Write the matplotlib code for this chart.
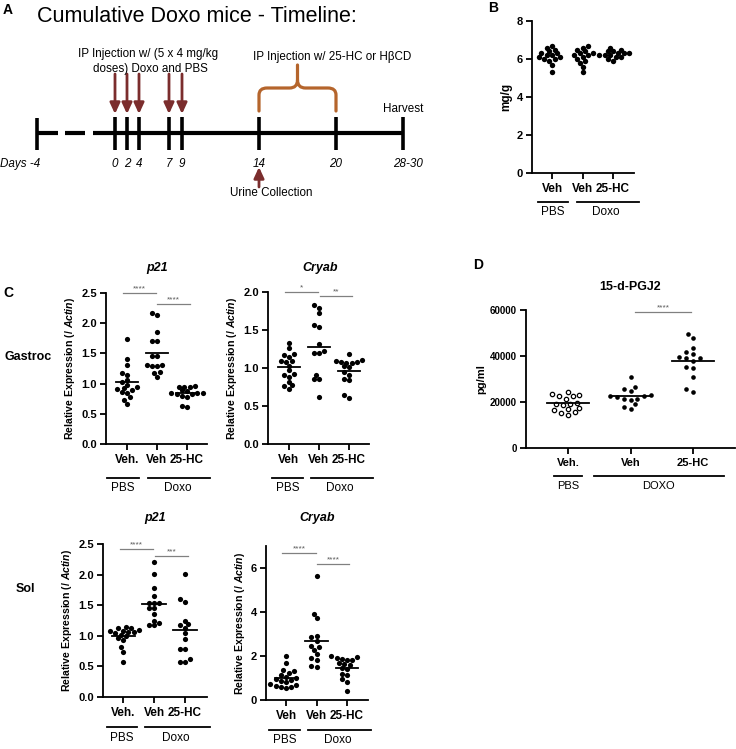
import numpy as np
import matplotlib.pyplot as plt
from matplotlib.path import Path
from matplotlib.patches import PathPatch

W, H = 736, 749

# ---- panel B: kidney/body weight (mg/g)
b_labels = ["Veh", "Veh", "25-HC"]
b_pbs_veh = [6.7, 6.6, 6.5, 6.4, 6.3, 6.3, 6.2, 6.2, 6.1, 6.1, 6.0, 5.9, 5.7, 5.3, 6.0]
b_doxo_veh = [6.7, 6.6, 6.5, 6.4, 6.3, 6.3, 6.2, 6.2, 6.1, 6.0, 5.9, 5.8, 5.6, 5.3]
b_doxo_hc = [6.6, 6.5, 6.4, 6.4, 6.3, 6.3, 6.3, 6.2, 6.2, 6.1, 6.1, 6.0, 5.9, 6.2]

# ---- panel C: relative expression (/ Actin)
c_labels = ["Veh.", "Veh", "25-HC"]
c_labels_b = ["Veh", "Veh", "25-HC"]
p21_gas_pbs = [1.74, 1.41, 1.30, 1.17, 1.14, 1.06, 1.02, 0.98, 0.94, 0.91, 0.90, 0.86, 0.78, 0.73, 0.66, 0.85, 0.92]
p21_gas_veh = [2.17, 2.14, 1.85, 1.70, 1.70, 1.45, 1.45, 1.31, 1.30, 1.29, 1.29, 1.20, 1.18, 1.11]
p21_gas_hc = [0.96, 0.95, 0.95, 0.94, 0.89, 0.88, 0.85, 0.84, 0.84, 0.83, 0.82, 0.80, 0.78, 0.63, 0.62]

cryab_gas_pbs = [1.33, 1.26, 1.18, 1.17, 1.15, 1.09, 1.09, 1.08, 1.03, 0.97, 0.92, 0.91, 0.88, 0.82, 0.77, 0.76, 0.72]
cryab_gas_veh = [1.83, 1.79, 1.73, 1.57, 1.54, 1.32, 1.22, 1.20, 1.20, 0.91, 0.86, 0.86, 0.62]
cryab_gas_hc = [1.19, 1.10, 1.09, 1.08, 1.08, 1.07, 1.06, 1.02, 1.01, 0.95, 0.91, 0.86, 0.84, 0.64, 0.60]

p21_sol_pbs = [1.14, 1.13, 1.12, 1.10, 1.08, 1.08, 1.07, 1.06, 1.05, 1.02, 1.00, 0.96, 0.93, 0.81, 0.74, 0.58]
p21_sol_veh = [2.21, 2.01, 1.78, 1.65, 1.54, 1.54, 1.53, 1.45, 1.45, 1.36, 1.25, 1.21, 1.18, 1.17]
p21_sol_hc = [2.01, 1.60, 1.56, 1.25, 1.19, 1.18, 1.13, 1.05, 0.95, 0.79, 0.79, 0.62, 0.58, 0.57]

cryab_sol_pbs = [2.0, 1.7, 1.35, 1.3, 1.25, 1.15, 1.05, 1.0, 0.95, 0.9, 0.85, 0.8, 0.75, 0.7, 0.65, 0.6, 0.6, 0.55]
cryab_sol_veh = [5.62, 3.92, 3.72, 2.92, 2.86, 2.70, 2.46, 2.43, 2.28, 2.10, 1.90, 1.82, 1.55, 1.49]
cryab_sol_hc = [1.98, 1.95, 1.90, 1.85, 1.82, 1.80, 1.67, 1.64, 1.60, 1.45, 1.40, 1.19, 1.15, 0.94, 0.84, 0.43]

# ---- panel D: 15-d-PGJ2 (pg/ml)
d_labels = ["Veh.", "Veh", "25-HC"]
pgj2_pbs = [24500, 22900, 22500, 21200, 19300, 19300, 19600, 17200, 17000, 16700, 15500, 15200, 14500, 23300, 22500, 18800]
pgj2_veh = [30900, 26700, 25500, 24800, 23000, 22800, 22500, 22300, 21300, 21300, 21000, 19000, 17800, 17100]
pgj2_hc = [49600, 47700, 43600, 41700, 40900, 39600, 39000, 39000, 37700, 35400, 34600, 30900, 25500, 24200]

# ---- panel A: timeline (schematic positions)
tl_days = ["0", "2", "4", "7", "9", "14", "20", "28-30"]
tl_pos = [115, 127, 139, 169, 182, 259, 336, 403]
dose_days = ["0", "2", "4", "7", "9"]

plt.rcParams.update({
    "font.family": ["Liberation Sans", "DejaVu Sans"],
    "mathtext.fontset": "custom",
    "mathtext.rm": "Liberation Sans",
    "mathtext.it": "Liberation Sans:italic",
    "mathtext.bf": "Liberation Sans:bold",
    "mathtext.bfit": "Liberation Sans:italic:bold",
})

fig = plt.figure(figsize=(W / 100, H / 100), dpi=100)


def px_axes(left, top, right, bottom):
    return fig.add_axes([left / W, 1 - bottom / H, (right - left) / W, (bottom - top) / H])


def ftext(x, y, s, **kw):
    fig.text(x / W, 1 - y / H, s, **kw)


def swarm(vals, py_unit, px_cat, dot_px, gap=0.85):
    """Simple beeswarm: place each point as close to the centre as possible without overlap."""
    y = np.asarray(vals, dtype=float) * py_unit
    order = np.argsort(y)
    step = dot_px * 0.5
    cands = sorted([c * step for c in range(-12, 13)], key=lambda c: (abs(c), c))
    placed = []
    offs = np.zeros(len(y))
    for k in order:
        for c in cands:
            if all((c - xp) ** 2 + (y[k] - yp) ** 2 >= (dot_px * gap) ** 2 for xp, yp in placed):
                break
        placed.append((c, y[k]))
        offs[k] = c / px_cat
    return offs


def dot_panel(ax, groups, labels, xlim, ylim, yticks, yfmt, dot_px=5.2, gap=0.85,
              mean_w=0.75, show_mean=True, open_first=False, tick_fs=8, lab_fs=8.5):
    ax.set_xlim(*xlim)
    ax.set_ylim(*ylim)
    pos = ax.get_position()
    py_unit = pos.height * H / (ylim[1] - ylim[0])
    px_cat = pos.width * W / (xlim[1] - xlim[0])
    s = (dot_px * 0.72) ** 2
    for i, vals in enumerate(groups):
        offs = swarm(vals, py_unit, px_cat, dot_px, gap)
        if open_first and i == 0:
            ax.scatter(i + offs, vals, s=s * 0.9, facecolor="white", edgecolor="black",
                       linewidth=0.9, zorder=3, clip_on=False)
        else:
            ax.scatter(i + offs, vals, s=s, color="black", linewidth=0, zorder=3, clip_on=False)
        if show_mean:
            m = float(np.mean(vals))
            ax.plot([i - mean_w / 2, i + mean_w / 2], [m, m], color="black", lw=1.3, zorder=4)
    for sp in ("top", "right"):
        ax.spines[sp].set_visible(False)
    for sp in ("left", "bottom"):
        ax.spines[sp].set_linewidth(1.3)
    ax.set_yticks(yticks)
    ax.set_yticklabels([yfmt(v) for v in yticks], fontweight="bold", fontsize=tick_fs)
    ax.set_xticks(range(len(labels)))
    ax.set_xticklabels(labels, fontweight="bold", fontsize=lab_fs)
    ax.tick_params(direction="out", length=4, width=1.3, pad=2.5)
    ax.tick_params(axis="x", pad=3.5)


def group_bars(ax, spans, names, name_x, line_px, text_px, fs=8.5):
    hpx = ax.get_position().height * H
    tr = ax.get_xaxis_transform()
    for (x0, x1), name, xc in zip(spans, names, name_x):
        ax.plot([x0, x1], [-line_px / hpx] * 2, transform=tr, clip_on=False, color="black", lw=1.3)
        ax.text(xc, -text_px / hpx, name, transform=tr, ha="center", va="center", fontsize=fs)


def sig_bar(ax, x0, x1, y, stars, fs=6):
    ax.plot([x0, x1], [y, y], color="0.5", lw=0.9, clip_on=False)
    ax.annotate(stars, xy=((x0 + x1) / 2, y), xytext=(0, 0.5), textcoords="offset points",
                ha="center", va="bottom", fontsize=fs, color="0.35", annotation_clip=False)


ylab = r"Relative Expression (/ $\mathbfit{Actin}$)"
f1 = lambda v: f"{v:.1f}"
f0 = lambda v: f"{v:.0f}"

# ================= Panel A: timeline =================
ax_a = px_axes(0, 0, 440, 200)
ax_a.set_xlim(0, 440)
ax_a.set_ylim(200, 0)
ax_a.axis("off")
ax_a.text(37, 16, "Cumulative Doxo mice - Timeline:", fontsize=15.5, ha="left", va="center")

line_y = 133
ax_a.plot([37, 58], [line_y, line_y], color="black", lw=3, solid_capstyle="butt")
ax_a.plot([65, 85], [line_y, line_y], color="black", lw=3, solid_capstyle="butt")
ax_a.plot([93, tl_pos[-1]], [line_y, line_y], color="black", lw=3, solid_capstyle="butt")
ax_a.plot([37, 37], [118, 150], color="black", lw=2.6, solid_capstyle="butt")
for x in tl_pos:
    ax_a.plot([x, x], [117, 150], color="black", lw=2.6, solid_capstyle="butt")
ax_a.text(0, 164, "Days -4", fontsize=8.4, style="italic", ha="left", va="center")
for x, lab in zip(tl_pos, tl_days):
    dxl = 5 if lab == "28-30" else 0
    ax_a.text(x + dxl, 164, lab, fontsize=8.4, style="italic", ha="center", va="center")

arrow_col = "#7b2d2d"
astyle = "-|>,head_width=0.3,head_length=0.65"
for x, day in zip(tl_pos, tl_days):
    if day in dose_days:
        ax_a.annotate("", xy=(x, 114), xytext=(x, 74),
                      arrowprops=dict(arrowstyle=astyle, lw=2.0, color=arrow_col,
                                      shrinkA=0, shrinkB=0))
ax_a.annotate("", xy=(259, 167), xytext=(259, 187),
              arrowprops=dict(arrowstyle=astyle, lw=2.0, color=arrow_col, shrinkA=0, shrinkB=0))
ax_a.text(271, 193, "Urine Collection", fontsize=8.4, ha="center", va="center")
ax_a.text(148, 54, "IP Injection w/ (5 x 4 mg/kg", fontsize=8.4, ha="center", va="center")
ax_a.text(150, 69, "doses) Doxo and PBS", fontsize=8.4, ha="center", va="center")
ax_a.text(332, 57, "IP Injection w/ 25-HC or H\u03b2CD", fontsize=8.4, ha="center", va="center")
ax_a.text(403, 109, "Harvest", fontsize=8.4, ha="center", va="center")

bx0, bx1 = tl_pos[5], tl_pos[6]
bc = (bx0 + bx1) / 2
verts = [(bx0, 111), (bx0, 95), (bx0, 88), (bx0 + 8, 88), (bc - 8, 88), (bc, 88), (bc, 80), (bc, 65),
         (bc, 80), (bc, 88), (bc + 8, 88), (bx1 - 8, 88), (bx1, 88), (bx1, 95), (bx1, 111)]
codes = [Path.MOVETO, Path.LINETO, Path.CURVE3, Path.CURVE3, Path.LINETO, Path.CURVE3, Path.CURVE3,
         Path.LINETO, Path.MOVETO, Path.CURVE3, Path.CURVE3, Path.LINETO, Path.CURVE3, Path.CURVE3, Path.LINETO]
ax_a.add_patch(PathPatch(Path(verts, codes), facecolor="none", edgecolor="#b5652c", lw=2.3,
                         capstyle="round", joinstyle="round"))
ftext(8, 10, "A", fontsize=10, fontweight="bold", ha="center", va="center")

# ================= Panel B =================
ax_b = px_axes(532, 21, 634, 173)
dot_panel(ax_b, [b_pbs_veh, b_doxo_veh, b_doxo_hc], b_labels, (-0.66, 2.69), (0, 8),
          [0, 2, 4, 6, 8], f0, show_mean=False, dot_px=5.4)
ax_b.set_ylabel("mg/g", fontweight="bold", fontsize=8.5, labelpad=3)
group_bars(ax_b, [(-0.46, 0.52), (0.82, 2.85)], ["PBS", "Doxo"], [0.03, 1.77], 29, 39)
ftext(493, 8, "B", fontsize=10, fontweight="bold", ha="center", va="center")

# ================= Panel C =================
ftext(8, 293, "C", fontsize=10, fontweight="bold", ha="center", va="center")
ftext(28, 357, "Gastroc", fontsize=9, fontweight="bold", ha="center", va="center")
ftext(25, 589, "Sol", fontsize=9, fontweight="bold", ha="center", va="center")
ftext(157, 268, "p21", fontsize=9, fontweight="bold", style="italic", ha="center", va="center")
ftext(320, 268, "Cryab", fontsize=9, fontweight="bold", style="italic", ha="center", va="center")
ftext(155, 518, "p21", fontsize=9, fontweight="bold", style="italic", ha="center", va="center")
ftext(317, 518, "Cryab", fontsize=9, fontweight="bold", style="italic", ha="center", va="center")

c_half = [0, 0.5, 1.0, 1.5, 2.0, 2.5]

ax1 = px_axes(106, 293, 207, 444)
dot_panel(ax1, [p21_gas_pbs, p21_gas_veh, p21_gas_hc], c_labels, (-0.7, 2.67), (0, 2.5), c_half, f1)
ax1.set_ylabel(ylab, fontweight="bold", fontsize=7.6, labelpad=3)
group_bars(ax1, [(-0.67, 0.4), (0.7, 2.77)], ["PBS", "Doxo"], [-0.13, 1.7], 34, 44)
sig_bar(ax1, -0.13, 0.97, 2.5, "****")
sig_bar(ax1, 1.0, 2.1, 2.32, "****")

ax2 = px_axes(268, 292, 369, 444)
dot_panel(ax2, [cryab_gas_pbs, cryab_gas_veh, cryab_gas_hc], c_labels_b, (-0.7, 2.67), (0, 2.0),
          c_half[:5], f1)
ax2.set_ylabel(ylab, fontweight="bold", fontsize=7.6, labelpad=3)
group_bars(ax2, [(-0.57, 0.47), (0.73, 2.8)], ["PBS", "Doxo"], [-0.03, 1.7], 34, 44)
sig_bar(ax2, -0.13, 0.97, 2.0, "*")
sig_bar(ax2, 1.03, 2.1, 1.95, "**")

ax3 = px_axes(103, 544, 207, 697)
dot_panel(ax3, [p21_sol_pbs, p21_sol_veh, p21_sol_hc], c_labels, (-0.65, 2.71), (0, 2.5), c_half, f1)
ax3.set_ylabel(ylab, fontweight="bold", fontsize=7.6, labelpad=3)
group_bars(ax3, [(-0.52, 0.45), (0.71, 2.8)], ["PBS", "Doxo"], [-0.05, 1.7], 30, 41)
sig_bar(ax3, -0.1, 0.97, 2.42, "****")
sig_bar(ax3, 1.03, 2.1, 2.3, "***")

ax4 = px_axes(266, 546, 368, 700)
dot_panel(ax4, [cryab_sol_pbs, cryab_sol_veh, cryab_sol_hc], c_labels_b, (-0.66, 2.69), (0, 7),
          [0, 2, 4, 6], f0)
ax4.set_ylabel(ylab, fontweight="bold", fontsize=7.6, labelpad=3)
group_bars(ax4, [(-0.56, 0.46), (0.72, 2.79)], ["PBS", "Doxo"], [-0.05, 1.7], 30, 40)
sig_bar(ax4, -0.13, 0.98, 6.68, "****")
sig_bar(ax4, 1.02, 2.07, 6.18, "****")

# ================= Panel D =================
ftext(478, 265, "D", fontsize=10, fontweight="bold", ha="center", va="center")
ftext(630, 287, "15-d-PGJ2", fontsize=9, fontweight="bold", ha="center", va="center")
ax_d = px_axes(526, 310, 735, 448)
dot_panel(ax_d, [pgj2_pbs, pgj2_veh, pgj2_hc], d_labels, (-0.67, 2.67), (0, 60000),
          [0, 20000, 40000, 60000], f0, dot_px=4.6, gap=1.25, mean_w=0.67, open_first=True,
          tick_fs=7, lab_fs=8)
ax_d.set_ylabel("pg/ml", fontweight="bold", fontsize=8, labelpad=3)
group_bars(ax_d, [(-0.22, 0.22), (0.42, 2.5)], ["PBS", "DOXO"], [0, 1.44], 28, 38, fs=8)
sig_bar(ax_d, 1.07, 1.97, 59100, "****")

fig.savefig("out.png", dpi=100)
